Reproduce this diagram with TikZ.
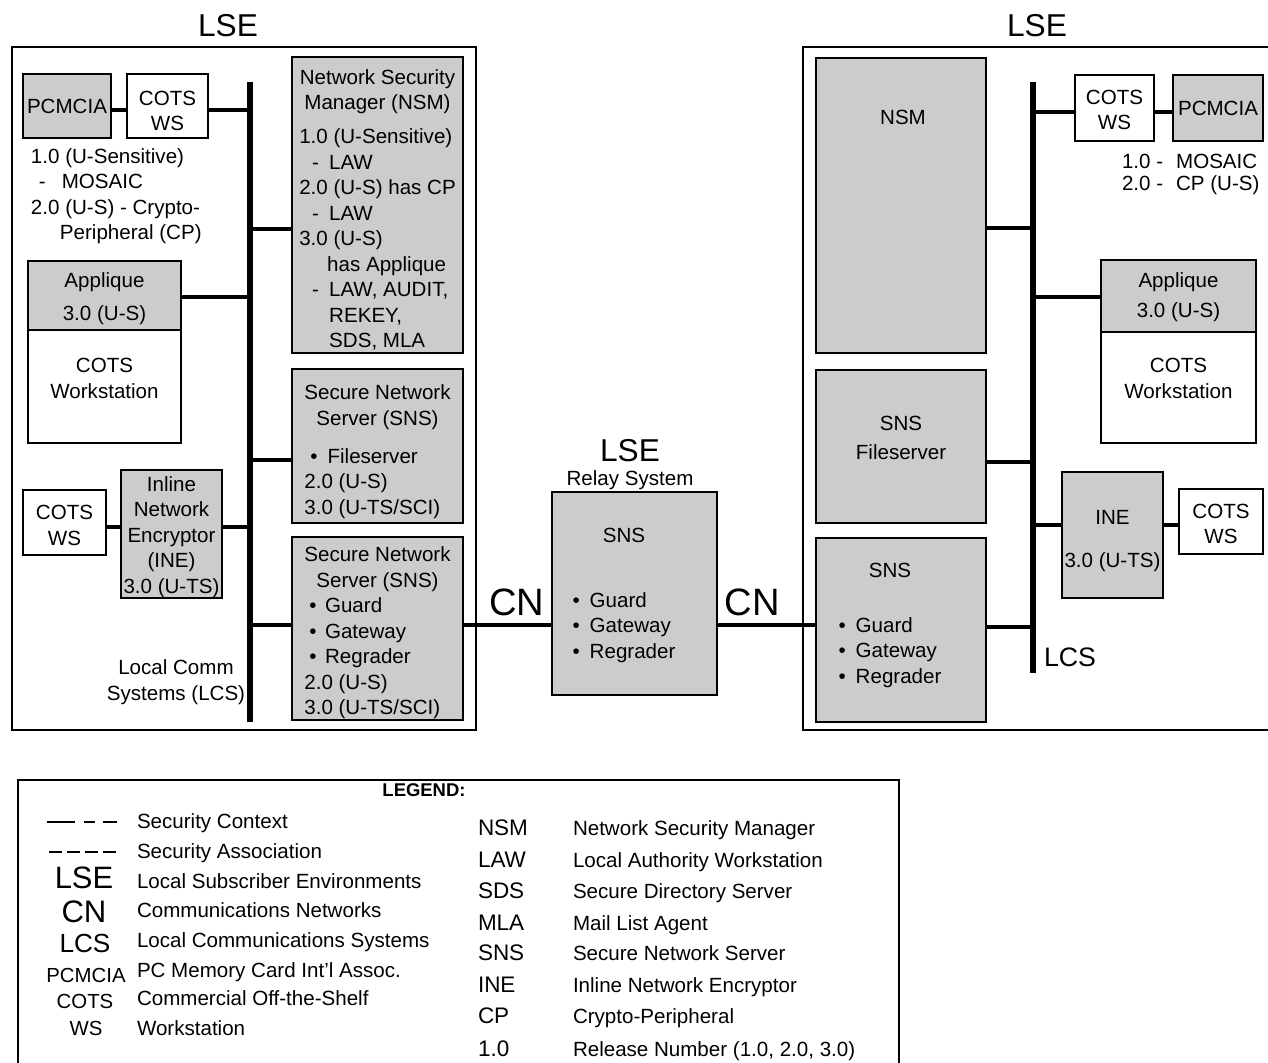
\documentclass[tikz,border=0pt]{standalone}
\usepackage{fontspec}
\setmainfont{Liberation Sans}
\definecolor{boxgray}{gray}{0.80}
\newcommand{\bodysize}{\fontsize{11.7}{14.5}\selectfont}
\usetikzlibrary{positioning,calc}

\begin{document}
\begin{tikzpicture}[
  x=0.02cm, y=-0.02cm,
  every node/.style={inner sep=0pt, outer sep=0pt, font=\bodysize},
  unit/.style={
    rectangle, draw=black, line width=1.6pt,
    fill=white, align=center
  },
  shaded/.style={unit, fill=boxgray},
  frame/.style={draw=black, line width=1.6pt},
  link/.style={line width=2.8pt},
  bus/.style={line width=3pt},
  bigtitle/.style={font=\fontsize{18}{20}\selectfont},
  cnlabel/.style={font=\fontsize{21.7}{24}\selectfont},
  legsym/.style={anchor=base, font=\fontsize{11.6}{14}\selectfont},
  legtext/.style={anchor=base west, font=\fontsize{11.7}{14}\selectfont},
  legabbr/.style={anchor=base west, font=\fontsize{12.8}{15}\selectfont}
]
\useasboundingbox (0,0) rectangle (1268,1062);
\clip (0,0) rectangle (1268,1062);
\fill[white] (0,0) rectangle (1268,1062);

% left LSE
\draw[frame] (12,47) rectangle (476,730);
\node[bigtitle] (lseL) at (228,26) {LSE};
\coordinate (busLtop) at (250,82);
\coordinate (busLbot) at (250,722);
\draw[bus] (busLtop) -- (busLbot);

\node[shaded, minimum width=1.76cm, minimum height=1.28cm] (pcmL) at (67,106) {PCMCIA};
\node[unit, minimum width=1.62cm, minimum height=1.28cm] (cotsL) at (167.5,106) {};
\node[align=center] (cotsLtxt) at (167.5,111) {COTS\\WS};
\node[anchor=west, align=left] (relL) at (31,196)
  {1.0 (U-Sensitive)\\\hspace*{0.16cm}-\hspace*{0.32cm}MOSAIC\\2.0 (U-S) - Crypto-\\\hspace*{0.58cm}Peripheral (CP)};

\node[shaded, minimum width=3.42cm, minimum height=5.92cm] (nsmL) at (377.5,205) {};
\node (nsmLtxt) at (377.5,211) {%
  \begin{tabular}{@{}l@{}}
  \multicolumn{1}{@{}c@{}}{Network Security}\\
  \multicolumn{1}{@{}c@{}}{Manager (NSM)}\\[0.17cm]
  1.0 (U-Sensitive)\\
  \hspace*{0.26cm}-\hspace*{0.2cm}LAW\\
  2.0 (U-S) has CP\\
  \hspace*{0.26cm}-\hspace*{0.2cm}LAW\\
  3.0 (U-S)\\
  \hspace*{0.56cm}has Applique\\
  \hspace*{0.26cm}-\hspace*{0.2cm}LAW, AUDIT,\\
  \hspace*{0.6cm}REKEY,\\
  \hspace*{0.6cm}SDS, MLA
  \end{tabular}};

\node[shaded, minimum width=3.06cm, minimum height=1.38cm] (applL) at (104.5,295.5) {};
\node[align=center] (applLtxt) at (104.5,298.5) {Applique\\[0.15cm]3.0 (U-S)};
\node[unit, minimum width=3.06cm, minimum height=2.26cm] (wsL) at (104.5,386.5) {};
\node[align=center] (wsLtxt) at (104.5,378.5) {COTS\\Workstation};

\node[shaded, minimum width=3.42cm, minimum height=3.08cm] (snsFL) at (377.5,446) {};
\node (snsFLtxt) at (377.5,452) {%
  \begin{tabular}{@{}l@{}}
  \multicolumn{1}{@{}c@{}}{Secure Network}\\
  \multicolumn{1}{@{}c@{}}{Server (SNS)}\\[0.25cm]
  \hspace*{0.12cm}\textbullet\hspace*{0.2cm}Fileserver\\
  2.0 (U-S)\\
  3.0 (U-TS/SCI)
  \end{tabular}};

\node[shaded, minimum width=3.42cm, minimum height=3.66cm] (snsGL) at (377.5,628.5) {};
\node (snsGLtxt) at (377.5,633) {%
  \begin{tabular}{@{}l@{}}
  \multicolumn{1}{@{}c@{}}{Secure Network}\\
  \multicolumn{1}{@{}c@{}}{Server (SNS)}\\
  \hspace*{0.1cm}\textbullet\hspace*{0.17cm}Guard\\
  \hspace*{0.1cm}\textbullet\hspace*{0.17cm}Gateway\\
  \hspace*{0.1cm}\textbullet\hspace*{0.17cm}Regrader\\
  2.0 (U-S)\\
  3.0 (U-TS/SCI)
  \end{tabular}};

\node[unit, minimum width=1.66cm, minimum height=1.30cm] (cotsL2) at (64.5,522.5) {};
\node[align=center] (cotsL2txt) at (64.5,525.5) {COTS\\WS};
\node[shaded, minimum width=2.02cm, minimum height=2.56cm] (ineL) at (171.5,534) {};
\node[align=center] (ineLtxt) at (171.5,537)
  {Inline\\Network\\Encryptor\\(INE)\\3.0 (U-TS)};
\node[align=center] (lcsL) at (176,682) {Local Comm\\Systems (LCS)};

\coordinate (tapL1) at (250,110);
\coordinate (tapL2) at (250,229);
\coordinate (tapL3) at (250,297);
\coordinate (tapL4) at (250,460);
\coordinate (tapL5) at (250,527);
\coordinate (tapL6) at (250,625);
\draw[link] (pcmL.east |- tapL1) -- (cotsL.west |- tapL1);
\draw[link] (cotsL.east |- tapL1) -- (tapL1);
\draw[link] (nsmL.west |- tapL2) -- (tapL2);
\draw[link] (applL.east |- tapL3) -- (tapL3);
\draw[link] (snsFL.west |- tapL4) -- (tapL4);
\draw[link] (cotsL2.east |- tapL5) -- (ineL.west |- tapL5);
\draw[link] (ineL.east |- tapL5) -- (tapL5);
\draw[link] (snsGL.west |- tapL6) -- (tapL6);

% relay LSE
\node[font=\fontsize{18}{20}\selectfont] (lseM) at (630,451) {LSE};
\node (relayTitle) at (630,480) {Relay System};
\node[shaded, minimum width=3.30cm, minimum height=4.06cm] (relay) at (634.5,593.5) {};
\node (relayTxt) at (624,595) {%
  \begin{tabular}{@{}l@{}}
  \multicolumn{1}{@{}c@{}}{SNS}\\[0.79cm]
  \textbullet\hspace*{0.2cm}Guard\\
  \textbullet\hspace*{0.2cm}Gateway\\
  \textbullet\hspace*{0.2cm}Regrader
  \end{tabular}};
\node[cnlabel] (cnL) at (517,602) {CN};
\node[cnlabel] (cnR) at (752,602) {CN};

% right LSE
\draw[frame] (803,47) rectangle (1290,730);
\node[bigtitle] (lseR) at (1037,26) {LSE};
\coordinate (busRtop) at (1033,82);
\coordinate (busRbot) at (1033,673);
\draw[bus] (busRtop) -- (busRbot);
\node[anchor=west, font=\fontsize{15.2}{17}\selectfont] (lcsR) at (1044,657) {LCS};

\node[shaded, minimum width=3.40cm, minimum height=5.90cm] (nsmR) at (901,205.5) {};
\node (nsmRtxt) at (903,117) {NSM};
\node[unit, minimum width=1.58cm, minimum height=1.32cm] (cotsR) at (1114.5,108) {};
\node[align=center] (cotsRtxt) at (1114.5,110) {COTS\\WS};
\node[shaded, minimum width=1.80cm, minimum height=1.32cm] (pcmR) at (1218,108) {PCMCIA};
\node[anchor=west, font=\fontsize{11.7}{12.6}\selectfont] (relR) at (1122,175) {%
  \begin{tabular}{@{}l@{\hspace{0.26cm}}l@{}}
  1.0 - & MOSAIC\\
  2.0 - & CP (U-S)
  \end{tabular}};

\node[shaded, minimum width=3.10cm, minimum height=1.44cm] (applR) at (1178.5,296) {};
\node[align=center] (applRtxt) at (1178.5,297) {Applique\\[0.1cm]3.0 (U-S)};
\node[unit, minimum width=3.10cm, minimum height=2.22cm] (wsR) at (1178.5,387.5) {};
\node[align=center] (wsRtxt) at (1178.5,378.5) {COTS\\Workstation};

\node[shaded, minimum width=3.40cm, minimum height=3.06cm] (snsFR) at (901,446.5) {};
\node[align=center] (snsFRtxt) at (901,437.5) {SNS\\[0.07cm]Fileserver};
\node[shaded, minimum width=2.02cm, minimum height=2.52cm] (ineR) at (1112.5,535) {};
\node[align=center] (ineRtxt) at (1112.5,541) {INE\\[0.35cm]3.0 (U-TS)};
\node[unit, minimum width=1.68cm, minimum height=1.30cm] (cotsR2) at (1221,521.5) {};
\node[align=center] (cotsR2txt) at (1221,524) {COTS\\WS};

\node[shaded, minimum width=3.40cm, minimum height=3.68cm] (snsGR) at (901,630) {};
\node (snsGRtxt) at (890,625) {%
  \begin{tabular}{@{}l@{}}
  \multicolumn{1}{@{}c@{}}{SNS}\\[0.59cm]
  \textbullet\hspace*{0.2cm}Guard\\
  \textbullet\hspace*{0.2cm}Gateway\\
  \textbullet\hspace*{0.2cm}Regrader
  \end{tabular}};

\coordinate (tapR1) at (1033,112);
\coordinate (tapR2) at (1033,228);
\coordinate (tapR3) at (1033,297);
\coordinate (tapR4) at (1033,462);
\coordinate (tapR5) at (1033,525);
\coordinate (tapR6) at (1033,627);
\draw[link] (tapR1) -- (cotsR.west |- tapR1);
\draw[link] (cotsR.east |- tapR1) -- (pcmR.west |- tapR1);
\draw[link] (nsmR.east |- tapR2) -- (tapR2);
\draw[link] (tapR3) -- (applR.west |- tapR3);
\draw[link] (snsFR.east |- tapR4) -- (tapR4);
\draw[link] (tapR5) -- (ineR.west |- tapR5);
\draw[link] (ineR.east |- tapR5) -- (cotsR2.west |- tapR5);
\draw[link] (snsGR.east |- tapR6) -- (tapR6);

% communications networks
\coordinate (cnrow) at (0,625);
\draw[link] (snsGL.east |- cnrow) -- (relay.west |- cnrow);
\draw[link] (relay.east |- cnrow) -- (snsGR.west |- cnrow);

% legend
\draw[frame] (18,780) rectangle (899,1080);
\node[font=\fontsize{10.5}{12}\selectfont\bfseries] (legHead) at (424,790) {LEGEND:};
\draw[line width=1.5pt, dash pattern=on 15.9pt off 5.1pt on 6.3pt off 4.6pt on 8pt] (47,822) -- (118,822);
\draw[line width=1.5pt, dash pattern=on 7.4pt off 2.8pt] (49,852) -- (116,852);
\node[legtext] (dSC) at (137,828) {Security Context};
\node[legtext] (dSA) at (137,858) {Security Association};
\node[legsym, font=\fontsize{17.6}{20}\selectfont] (sLSE) at (84,888) {LSE};
\node[legtext] (dLSE) at (137,888) {Local Subscriber Environments};
\node[legsym, font=\fontsize{17.7}{20}\selectfont] (sCN) at (84,922) {CN};
\node[legtext] (dCN) at (137,917) {Communications Networks};
\node[legsym, font=\fontsize{14.9}{17}\selectfont] (sLCS) at (85,952) {LCS};
\node[legtext] (dLCS) at (137,947) {Local Communications Systems};
\node[legsym] (sPC) at (86,982) {PCMCIA};
\node[legtext] (dPC) at (137,977) {PC Memory Card Int'l Assoc.};
\node[legsym] (sCOTS) at (85,1008) {COTS};
\node[legtext] (dCOTS) at (137,1005) {Commercial Off-the-Shelf};
\node[legsym] (sWS) at (86,1035) {WS};
\node[legtext] (dWS) at (137,1035) {Workstation};

\node[legabbr] (aNSM) at (478,835) {NSM};
\node[legtext] (eNSM) at (573,835) {Network Security Manager};
\node[legabbr] (aLAW) at (478,867) {LAW};
\node[legtext] (eLAW) at (573,867) {Local Authority Workstation};
\node[legabbr] (aSDS) at (478,898) {SDS};
\node[legtext] (eSDS) at (573,898) {Secure Directory Server};
\node[legabbr] (aMLA) at (478,930) {MLA};
\node[legtext] (eMLA) at (573,930) {Mail List Agent};
\node[legabbr] (aSNS) at (478,960) {SNS};
\node[legtext] (eSNS) at (573,960) {Secure Network Server};
\node[legabbr] (aINE) at (478,992) {INE};
\node[legtext] (eINE) at (573,992) {Inline Network Encryptor};
\node[legabbr] (aCP) at (478,1023) {CP};
\node[legtext] (eCP) at (573,1023) {Crypto-Peripheral};
\node[legabbr] (aREL) at (478,1056) {1.0};
\node[legtext] (eREL) at (573,1056) {Release Number (1.0, 2.0, 3.0)};
\end{tikzpicture}
\end{document}
